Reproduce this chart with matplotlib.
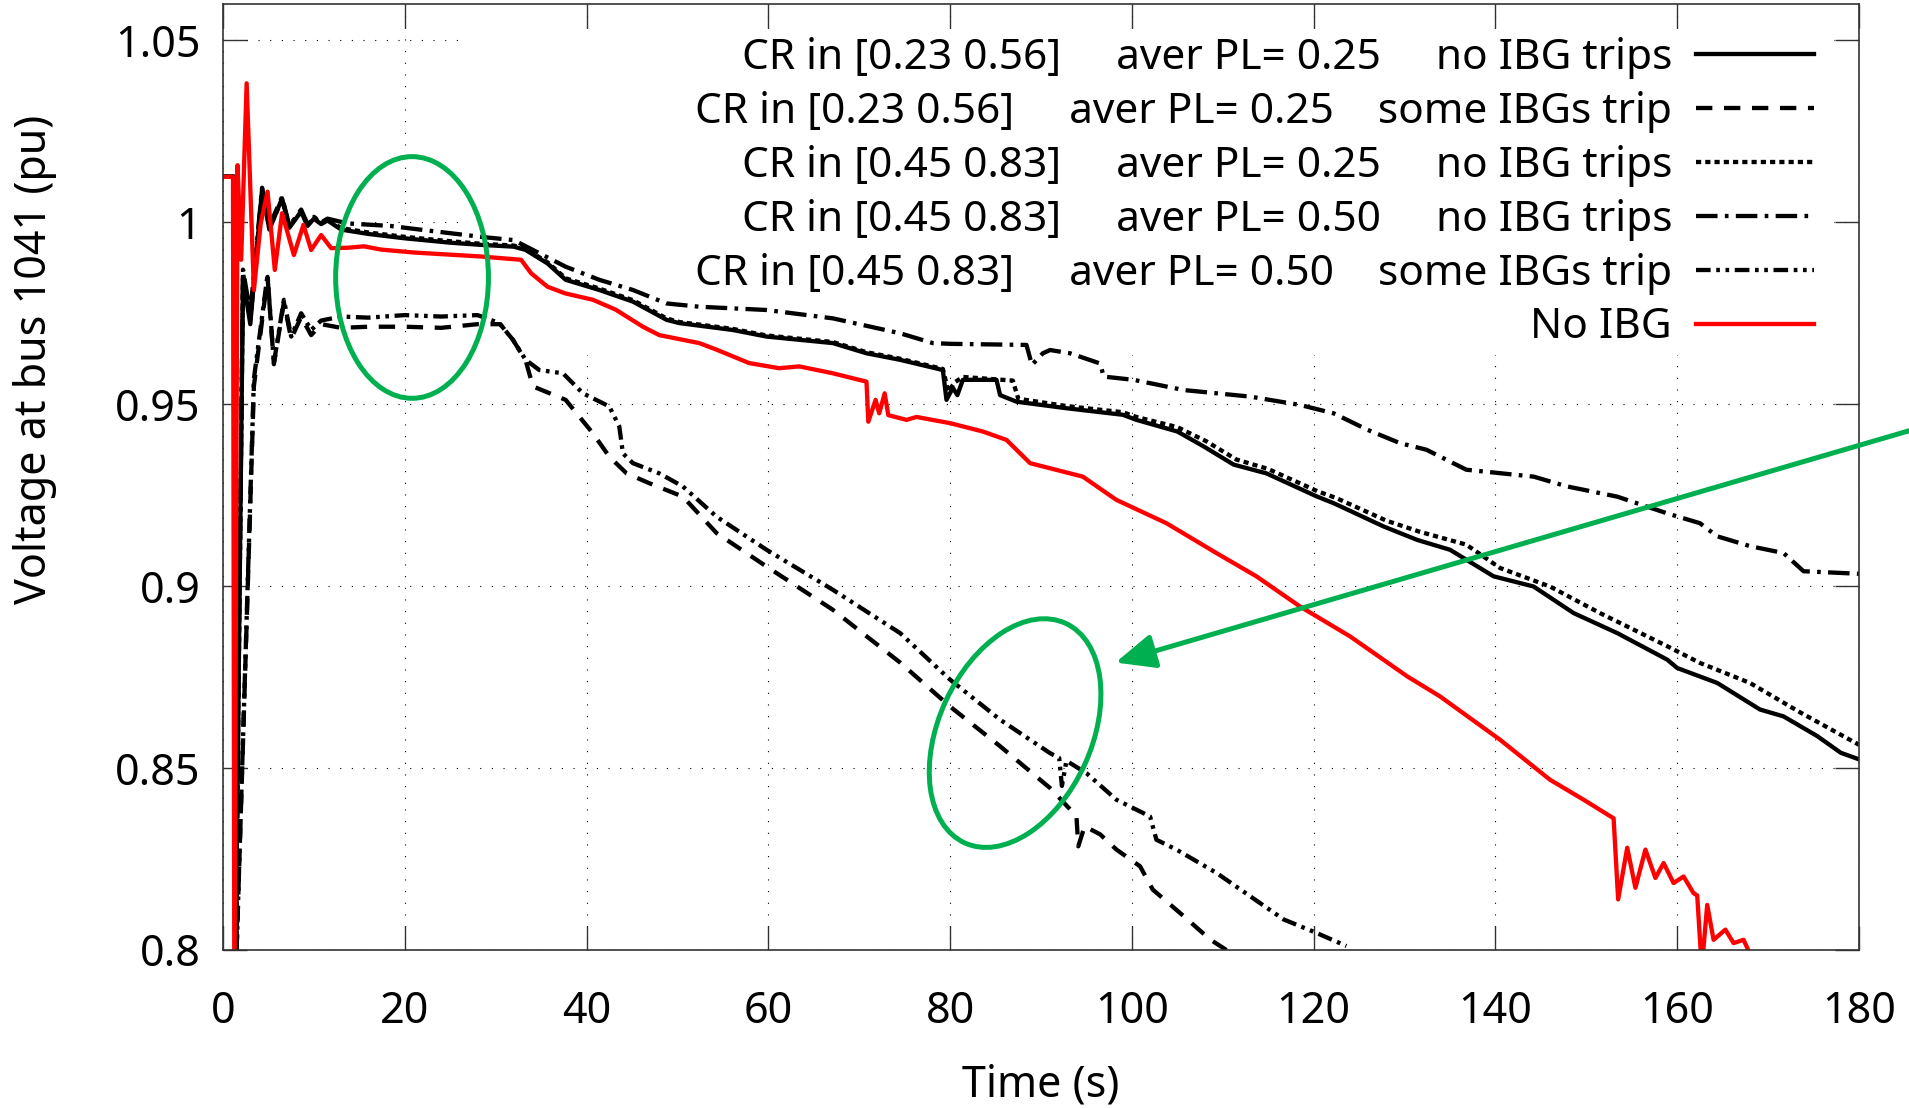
import numpy as np
import matplotlib
matplotlib.use('Agg')
import matplotlib.pyplot as plt
import matplotlib.transforms as mtransforms
from matplotlib.patches import Ellipse, Rectangle

# values: time (s) and voltage at bus 1041 (pu)
t_solid = [0, 1.2, 1.4, 2.2, 3.0, 4.3, 5.1, 6.5, 7.3, 8.6, 9.3, 10.0, 10.8, 11.5, 13.0, 16.0, 20.0,
           25.0, 28.4, 32.0, 33.3, 35.7, 37.7, 41.4, 45.1, 48.8, 50.2, 56.1, 59.8, 67.1, 70.8, 74.5,
           79.2, 79.6, 80.3, 80.8, 81.4, 85.1, 85.5, 87.3, 92.8, 99.0, 100.5, 105.0, 107.9, 111.2,
           114.8, 120.3, 122.2, 127.7, 131.4, 135.0, 139.8, 144.2, 148.6, 153.4, 158.9, 160.0, 164.4,
           169.1, 171.7, 175.4, 178.0, 180.0]
v_solid = [1.0125, 1.0125, 0.80, 0.985, 0.972, 1.009, 0.998, 1.0066, 0.9985, 1.003, 0.999, 1.001,
           0.9995, 1.0005, 0.998, 0.9968, 0.9956, 0.9944, 0.9938, 0.9933, 0.9924, 0.9887, 0.9842,
           0.9814, 0.9782, 0.9732, 0.9723, 0.9704, 0.9686, 0.9668, 0.964, 0.9622, 0.9594, 0.9512,
           0.9545, 0.9525, 0.9567, 0.9567, 0.9525, 0.9507, 0.9489, 0.9471, 0.9457, 0.9425, 0.9384,
           0.9334, 0.931, 0.9247, 0.9228, 0.9164, 0.9127, 0.9100, 0.9027, 0.8999, 0.8926, 0.8871,
           0.8798, 0.8775, 0.8734, 0.8661, 0.8642, 0.8588, 0.8542, 0.8524]

t_dash = [0, 1.2, 1.5, 3.4, 4.9, 5.6, 6.7, 7.5, 8.6, 9.7, 10.8, 13.0, 16.0, 20.0, 24.0, 28.0, 30.5,
          31.9, 33.3, 34.1, 37.7, 40.7, 42.5, 44.4, 46.9, 50.6, 54.3, 59.8, 67.1, 74.5, 80.0, 85.5,
          91.0, 93.9, 94.1, 94.8, 96.5, 98.3, 100.9, 102.3, 105.7, 108.6, 110.4]
v_dash = [1.0125, 1.0125, 0.80, 0.955, 0.985, 0.961, 0.978, 0.968, 0.974, 0.969, 0.972, 0.971,
          0.9713, 0.9713, 0.971, 0.972, 0.972, 0.9677, 0.962, 0.9549, 0.9512, 0.942, 0.9356, 0.931,
          0.9283, 0.9246, 0.9146, 0.9054, 0.8935, 0.8790, 0.8669, 0.856, 0.8445, 0.8368, 0.8285,
          0.8340, 0.8318, 0.8276, 0.8230, 0.8166, 0.8093, 0.8029, 0.8000]

t_dot = [0, 1.2, 1.4, 2.2, 3.0, 4.3, 5.1, 6.5, 7.3, 8.6, 9.3, 10.0, 10.8, 11.5, 13.0, 16.0, 20.0,
         25.0, 28.4, 32.0, 33.3, 35.7, 37.7, 41.4, 45.1, 48.8, 50.2, 56.1, 59.8, 67.1, 70.8, 74.5,
         79.2, 79.8, 80.5, 81.4, 86.9, 87.5, 92.8, 99.0, 100.5, 105.0, 108.2, 111.5, 115.0, 120.5,
         122.5, 128.0, 131.6, 136.8, 140.5, 146.0, 151.5, 158.9, 162.5, 168.0, 173.6, 180.0]
v_dot = [1.0125, 1.0125, 0.80, 0.986, 0.973, 1.0088, 0.9985, 1.0062, 0.999, 1.0028, 0.9993, 1.0012,
         0.9998, 1.0008, 0.9984, 0.9972, 0.996, 0.9948, 0.9941, 0.9936, 0.9927, 0.9890, 0.9846,
         0.9818, 0.9786, 0.9736, 0.9726, 0.9707, 0.9689, 0.9671, 0.9643, 0.9625, 0.9597, 0.9535,
         0.9560, 0.9575, 0.9565, 0.9515, 0.9495, 0.9478, 0.9465, 0.9437, 0.9398, 0.9348, 0.9322,
         0.9260, 0.9242, 0.9180, 0.9150, 0.9114, 0.9050, 0.8999, 0.8926, 0.8835, 0.8789, 0.8734,
         0.8652, 0.8564]

t_dashdot = [0, 1.2, 1.4, 2.2, 3.0, 4.3, 5.1, 6.5, 7.3, 8.6, 9.3, 10.0, 10.8, 11.5, 13.7, 18.4, 22.0,
             28.4, 32.0, 34.1, 37.7, 41.4, 45.1, 48.8, 52.4, 59.8, 67.1, 74.5, 78.1, 80.0, 88.4, 89.0,
             90.2, 91.0, 93.2, 96.5, 96.9, 100.2, 105.7, 113.0, 118.5, 122.2, 125.9, 129.5, 132.4,
             136.8, 144.2, 147.9, 153.4, 158.9, 162.5, 164.4, 168.0, 171.7, 173.9, 180.0]
v_dashdot = [1.0125, 1.0125, 0.80, 0.987, 0.975, 1.0095, 0.999, 1.007, 0.999, 1.0035, 0.9995, 1.0015,
             1.0, 1.001, 0.9997, 0.999, 0.9979, 0.996, 0.9951, 0.9924, 0.9878, 0.9842, 0.9814,
             0.9777, 0.9768, 0.9759, 0.9736, 0.9695, 0.9668, 0.9666, 0.9663, 0.9608, 0.9640, 0.9649,
             0.9640, 0.9612, 0.9576, 0.9567, 0.9539, 0.9521, 0.9498, 0.9475, 0.9430, 0.9393, 0.9375,
             0.9320, 0.9301, 0.9274, 0.9246, 0.9200, 0.9173, 0.9137, 0.9110, 0.9091, 0.9041, 0.9034]

t_dashdotdot = [0, 1.2, 1.5, 3.4, 4.9, 5.6, 6.7, 7.5, 8.6, 9.7, 10.8, 13.0, 16.0, 20.0, 24.0, 28.0,
                30.4, 31.9, 33.3, 34.8, 37.4, 39.6, 42.5, 43.6, 44.0, 45.1, 48.0, 50.6, 54.3, 59.8,
                67.1, 74.5, 80.0, 85.5, 91.0, 92.0, 92.3, 92.8, 95.0, 98.3, 102.0, 102.7, 104.9,
                109.3, 113.0, 116.7, 120.3, 123.6]
v_dashdotdot = [1.0125, 1.0125, 0.80, 0.957, 0.9855, 0.9613, 0.9787, 0.9686, 0.975, 0.9704, 0.973,
                0.9741, 0.9738, 0.9745, 0.9741, 0.9745, 0.9723, 0.9677, 0.9622, 0.9594, 0.9585,
                0.953, 0.9494, 0.9439, 0.9365, 0.9338, 0.931, 0.9274, 0.9191, 0.910, 0.899, 0.8871,
                0.8743, 0.8633, 0.8541, 0.8528, 0.8451, 0.8520, 0.8486, 0.8413, 0.8367, 0.8303,
                0.8276, 0.8212, 0.8148, 0.8084, 0.8047, 0.8011]

t_noibg = [0, 1.1, 1.25, 1.6, 2.0, 2.6, 3.4, 4.15, 4.9, 5.7, 6.5, 7.8, 8.85, 9.7, 10.8, 11.9, 13.7,
           15.5, 17.4, 21.0, 28.4, 32.8, 33.9, 35.7, 37.6, 40.7, 43.2, 46.2, 48.0, 52.4, 54.3, 57.9,
           61.2, 63.4, 67.1, 70.8, 71.0, 71.8, 72.2, 72.8, 73.2, 75.2, 76.3, 80.0, 83.6, 86.2, 88.8,
           94.6, 98.3, 103.8, 109.3, 113.7, 118.5, 124.0, 130.3, 133.9, 140.5, 146.0, 149.7, 153.0,
           153.5, 154.5, 155.4, 156.5, 157.6, 158.5, 159.6, 160.7, 161.8, 162.2, 162.7, 163.3,
           164.0, 165.3, 166.2, 167.3, 168.0]
v_noibg = [1.0125, 1.0125, 0.78, 1.0157, 0.9897, 1.0382, 0.9814, 0.9997, 1.0084, 0.9869, 1.0025,
           0.991, 0.9993, 0.9924, 0.9965, 0.9929, 0.993, 0.9934, 0.9925, 0.9917, 0.9906, 0.9897,
           0.986, 0.9823, 0.9805, 0.9787, 0.976, 0.9713, 0.969, 0.9668, 0.965, 0.9613, 0.9599,
           0.9604, 0.9585, 0.9562, 0.9452, 0.9512, 0.9475, 0.953, 0.947, 0.9457, 0.9465, 0.9448,
           0.9425, 0.9402, 0.9338, 0.9301, 0.9237, 0.9173, 0.9091, 0.9027, 0.8944, 0.8862, 0.8752,
           0.8697, 0.8578, 0.8468, 0.8413, 0.8362, 0.8139, 0.8281, 0.8171, 0.8276, 0.8198, 0.8239,
           0.8184, 0.8202, 0.8156, 0.8150, 0.7950, 0.8124, 0.8028, 0.8056, 0.8019, 0.8028, 0.7990]

labels = ['CR in [0.23 0.56]     aver PL= 0.25     no IBG trips',
          'CR in [0.23 0.56]     aver PL= 0.25    some IBGs trip',
          'CR in [0.45 0.83]     aver PL= 0.25     no IBG trips',
          'CR in [0.45 0.83]     aver PL= 0.50     no IBG trips',
          'CR in [0.45 0.83]     aver PL= 0.50    some IBGs trip',
          'No IBG']

xticks = [0, 20, 40, 60, 80, 100, 120, 140, 160, 180]
yticks = [0.8, 0.85, 0.9, 0.95, 1.0, 1.05]
ytick_labels = ['0.8', '0.85', '0.9', '0.95', '1', '1.05']

plt.rcParams['font.family'] = ['Noto Sans', 'DejaVu Sans']
fs = 31
green = '#00B050'

fig = plt.figure(figsize=(19.09, 11.08), dpi=100)
ax = fig.add_axes([223 / 1909, 158 / 1108, 1636 / 1909, 946 / 1108])

lw = 3.1
h1, = ax.plot(t_solid, v_solid, color='black', lw=lw, linestyle='-')
h2, = ax.plot(t_dash, v_dash, color='black', lw=lw, linestyle=(0, (3.8, 2.7)))
h3, = ax.plot(t_dot, v_dot, color='black', lw=lw, linestyle=(0, (1.2, 0.95)))
h4, = ax.plot(t_dashdot, v_dashdot, color='black', lw=lw, linestyle=(0, (5, 1.7, 0.85, 1.7)))
h5, = ax.plot(t_dashdotdot, v_dashdotdot, color='black', lw=lw,
              linestyle=(0, (3.4, 1.3, 0.85, 1.3, 0.85, 1.3)))
h6, = ax.plot(t_noibg, v_noibg, color='#FF0000', lw=lw, linestyle='-')

ax.set_xlim(0, 180)
ax.set_ylim(0.8, 1.06)
ax.set_xticks(xticks)
ax.set_yticks(yticks)
ax.set_yticklabels(ytick_labels)
ax.tick_params(direction='in', length=17.5, width=1.0, top=True, right=True,
               labelsize=fs, color='#333333')
ax.tick_params(axis='x', pad=28.5)
ax.tick_params(axis='y', pad=16)
for sp in ax.spines.values():
    sp.set_color('#333333')
    sp.set_linewidth(1.2)

ax.set_axisbelow(True)
ax.grid(True, color='black', linestyle=(0, (1, 9.5)), linewidth=0.8)

# the key box hides the grid behind it (but not the ticks on the frame)
ax.add_patch(Rectangle((26.6, 0.96354), 177.2 - 26.6, 1.0531 - 0.96354,
                       facecolor='white', edgecolor='none', zorder=0.8))

ax.set_xlabel('Time (s)', fontsize=fs)
ax.xaxis.set_label_coords(0.5, -0.1205)
ax.set_ylabel('Voltage at bus 1041 (pu)', fontsize=fs)
ax.yaxis.set_label_coords(-0.1015, 0.624)

ax.legend([h1, h2, h3, h4, h5, h6], labels, loc='upper right',
          bbox_to_anchor=(0.9725, 0.965), borderaxespad=0, borderpad=0, frameon=False,
          markerfirst=False, fontsize=30.5, handlelength=2.78, handletextpad=0.57,
          labelspacing=0.28)

# green highlights
pt = fig.dpi / 72.0
for cx, cy, ang in [(20.8, 0.98484, 0), (87.15, 0.85962, -24.7)]:
    tr = mtransforms.Affine2D().scale(pt) + mtransforms.ScaledTranslation(cx, cy, ax.transData)
    ax.add_patch(Ellipse((0, 0), 110, 174, angle=ang, transform=tr, fill=False,
                         edgecolor=green, lw=3.6, zorder=4, clip_on=False))

ax.annotate('', xy=(98.2, 0.879), xycoords='data', xytext=(1.0, 0.6112),
            textcoords='figure fraction', annotation_clip=False,
            arrowprops=dict(arrowstyle='-|>,head_length=0.8,head_width=0.35', color=green,
                            lw=3.6, mutation_scale=30, shrinkA=0, shrinkB=0), zorder=4)

fig.savefig('out.png', dpi=100)
